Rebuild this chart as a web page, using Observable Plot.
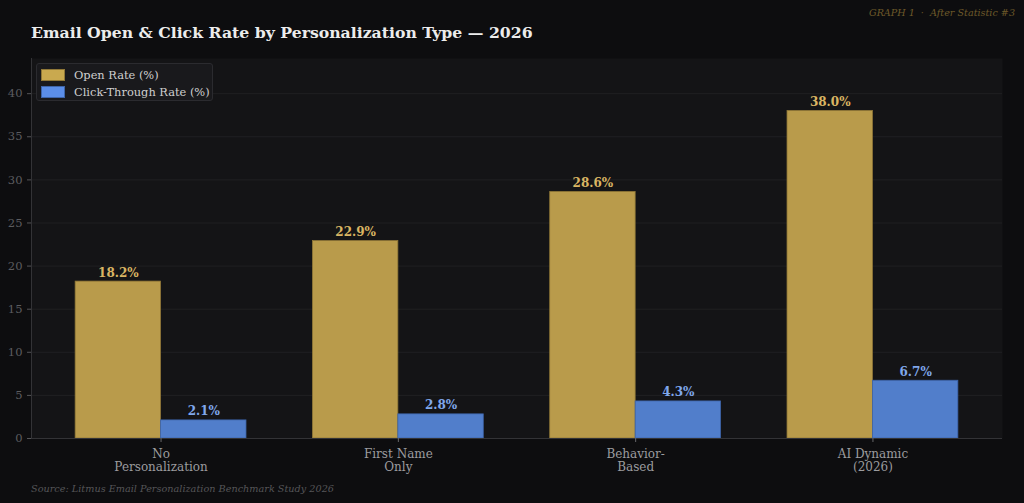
<!DOCTYPE html>
<html>
<head>
<meta charset="utf-8">
<script src="https://cdn.jsdelivr.net/npm/d3@7"></script>
<script src="https://cdn.jsdelivr.net/npm/@observablehq/plot@0.6"></script>
<style>
  html, body { margin: 0; padding: 0; background: #0d0d0f; }
  #wrap { position: relative; width: 1024px; height: 503px; overflow: hidden; font-family: "DejaVu Serif", serif; }
  #title { position: absolute; left: 31px; top: 23px; color: #ececec; font-weight: bold; font-size: 15.7px; white-space: nowrap; }
  #tag { position: absolute; right: 9px; top: 7px; color: #6e5a2a; font-style: italic; font-size: 9.6px; white-space: nowrap; }
  #source { position: absolute; left: 31px; top: 483px; color: #555558; font-style: italic; font-size: 9.7px; white-space: nowrap; }
  #legend { position: absolute; left: 36px; top: 63px; width: 177px; height: 38px; box-sizing: border-box;
            background: #19191c; border: 1px solid #2b2b2f; border-radius: 3px; }
  .item { position: absolute; left: 4px; display: flex; align-items: center; color: #cfcfcf; font-size: 11.4px; white-space: nowrap; }
  .sw { width: 24px; height: 12px; margin-right: 9px; box-sizing: border-box; }
  #chart { position: absolute; left: 0; top: 0; }
</style>
</head>
<body>
<div id="wrap">
  <div id="chart"></div>
  <div id="title">Email Open &amp; Click Rate by Personalization Type — 2026</div>
  <div id="tag">GRAPH 1 &nbsp;·&nbsp; After Statistic #3</div>
  <div id="legend"></div>
  <div id="source">Source: Litmus Email Personalization Benchmark Study 2026</div>
</div>
<script>
// Personalization tiers and measured rates (%)
const categories = ["No\nPersonalization", "First Name\nOnly", "Behavior-\nBased", "AI Dynamic\n(2026)"];
const openRate = [18.2, 22.9, 28.6, 38.0];
const clickRate = [2.1, 2.8, 4.3, 6.7];
const seriesNames = ["Open Rate (%)", "Click-Through Rate (%)"];
const yTicks = [0, 5, 10, 15, 20, 25, 30, 35, 40];

// Styling per series: bar fill, bar edge, legend swatch, value label colour
const seriesStyle = [
  {fill: "#b99b4b", stroke: "#8f7737", swatch: "#c9a94f", label: "#d9b563"},
  {fill: "#517ecb", stroke: "#3d64a8", swatch: "#5b8ee8", label: "#80a8ec"}
];

// Grouped-bar layout: each group holds two bars of width 0.36 side by side
const barWidth = 0.36;
const rows = [];
categories.forEach((c, i) => {
  rows.push({i, s: 0, value: openRate[i], x1: i - barWidth, x2: i});
  rows.push({i, s: 1, value: clickRate[i], x1: i, x2: i + barWidth});
});
const pad = (categories.length - 1 + 2 * barWidth) * 0.05;
const xDomain = [-barWidth - pad, categories.length - 1 + barWidth + pad];
const yDomain = [0, d3.max(openRate) * 1.16];

const chart = Plot.plot({
  width: 1024,
  height: 503,
  marginLeft: 31,
  marginRight: 22,
  marginTop: 58,
  marginBottom: 65,
  style: {background: "transparent", fontFamily: "DejaVu Serif, serif", overflow: "visible"},
  x: {type: "linear", domain: xDomain},
  y: {domain: yDomain},
  marks: [
    Plot.frame({fill: "#141416", stroke: null}),
    Plot.gridY(yTicks, {stroke: "#232326", strokeOpacity: 1, strokeWidth: 0.8}),
    Plot.rectY(rows, {
      x1: "x1", x2: "x2", y1: 0, y2: "value",
      fill: d => seriesStyle[d.s].fill,
      stroke: d => seriesStyle[d.s].stroke,
      strokeWidth: 0.8
    }),
    Plot.text(rows, {
      x: d => (d.x1 + d.x2) / 2, y: "value",
      text: d => d.value.toFixed(1) + "%",
      fill: d => seriesStyle[d.s].label,
      fontWeight: "bold", fontSize: 12, lineAnchor: "bottom", dy: -5
    }),
    Plot.ruleX([xDomain[0]], {stroke: "#333336", strokeWidth: 1}),
    Plot.ruleY([0], {stroke: "#333336", strokeWidth: 1}),
    Plot.axisY({
      ticks: yTicks, tickSize: 4, tickPadding: 5, fontSize: 11.5,
      color: "#5c5c5f", stroke: "#555558", label: null
    }),
    Plot.axisX({
      ticks: d3.range(categories.length), tickFormat: i => categories[i],
      tickSize: 4, tickPadding: 6, fontSize: 12, lineHeight: 1.08,
      color: "#9c9c9f", stroke: "#666669", label: null
    })
  ]
});
document.getElementById("chart").appendChild(chart);

// Legend entries
const legend = document.getElementById("legend");
seriesNames.forEach((name, k) => {
  const item = document.createElement("div");
  item.className = "item";
  item.style.top = (4 + k * 17) + "px";
  const sw = document.createElement("div");
  sw.className = "sw";
  sw.style.background = seriesStyle[k].swatch;
  sw.style.border = "1px solid " + seriesStyle[k].stroke;
  item.appendChild(sw);
  item.appendChild(document.createTextNode(name));
  legend.appendChild(item);
});
</script>
</body>
</html>
